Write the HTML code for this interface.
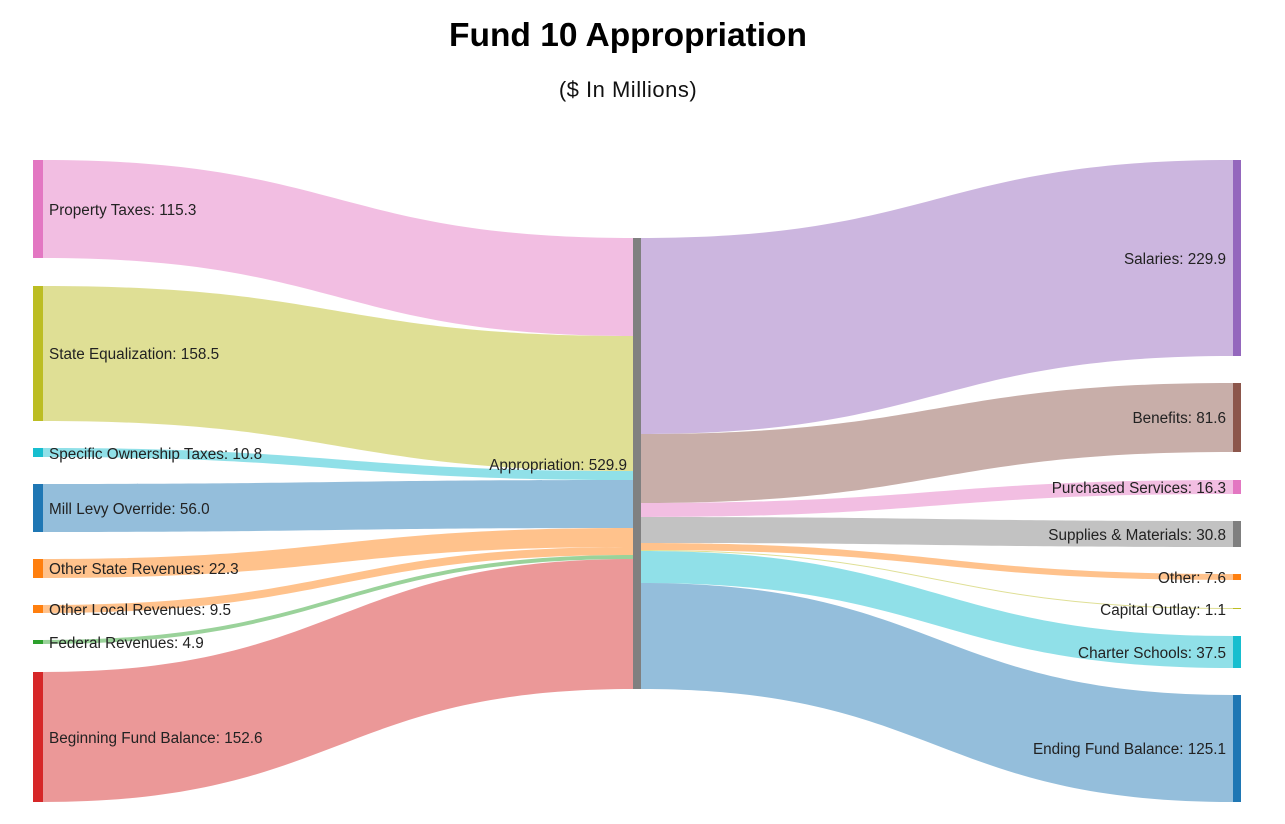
<!DOCTYPE html>
<html><head><meta charset="utf-8"><style>
body{margin:0;background:#fff;width:1285px;height:819px;overflow:hidden}
svg text{font-family:"Liberation Sans",sans-serif;fill:#222}
</style></head><body>
<svg width="1285" height="819" viewBox="0 0 1285 819" xmlns="http://www.w3.org/2000/svg">
<text x="628" y="46" text-anchor="middle" style="font-size:33.5px;font-weight:bold;fill:#000">Fund 10 Appropriation</text>
<text x="628" y="97" text-anchor="middle" style="font-size:22px;letter-spacing:0.5px;fill:#111">($ In Millions)</text>
<g fill-opacity="0.48">
<path d="M43,160 C338,160 338,238 633,238 L633,336 C338,336 338,258 43,258Z" fill="#e377c2"/>
<path d="M43,286 C338,286 338,336 633,336 L633,471 C338,471 338,421 43,421Z" fill="#bcbd22"/>
<path d="M43,448 C338,448 338,471 633,471 L633,480 C338,480 338,457 43,457Z" fill="#17becf"/>
<path d="M43,484 C338,484 338,480 633,480 L633,528 C338,528 338,532 43,532Z" fill="#1f77b4"/>
<path d="M43,559 C338,559 338,528 633,528 L633,547 C338,547 338,578 43,578Z" fill="#ff7f0e"/>
<path d="M43,605 C338,605 338,547 633,547 L633,555 C338,555 338,613 43,613Z" fill="#ff7f0e"/>
<path d="M43,640 C338,640 338,555 633,555 L633,559 C338,559 338,644 43,644Z" fill="#2ca02c"/>
<path d="M43,672 C338,672 338,559 633,559 L633,689 C338,689 338,802 43,802Z" fill="#d62728"/>
<path d="M641,238 C937,238 937,160 1233,160 L1233,356 C937,356 937,434 641,434Z" fill="#9467bd"/>
<path d="M641,434 C937,434 937,383 1233,383 L1233,452 C937,452 937,503 641,503Z" fill="#8c564b"/>
<path d="M641,503 C937,503 937,480 1233,480 L1233,494 C937,494 937,517 641,517Z" fill="#e377c2"/>
<path d="M641,517 C937,517 937,521 1233,521 L1233,547 C937,547 937,543 641,543Z" fill="#7f7f7f"/>
<path d="M641,543 C937,543 937,574 1233,574 L1233,580 C937,580 937,550 641,550Z" fill="#ff7f0e"/>
<path d="M641,550 C937,550 937,608 1233,608 L1233,609 C937,609 937,551 641,551Z" fill="#bcbd22"/>
<path d="M641,551 C937,551 937,636 1233,636 L1233,668 C937,668 937,583 641,583Z" fill="#17becf"/>
<path d="M641,583 C937,583 937,695 1233,695 L1233,802 C937,802 937,689 641,689Z" fill="#1f77b4"/>
</g>
<rect x="33" y="160" width="10" height="98" fill="#e377c2"/>
<rect x="33" y="286" width="10" height="135" fill="#bcbd22"/>
<rect x="33" y="448" width="10" height="9" fill="#17becf"/>
<rect x="33" y="484" width="10" height="48" fill="#1f77b4"/>
<rect x="33" y="559" width="10" height="19" fill="#ff7f0e"/>
<rect x="33" y="605" width="10" height="8" fill="#ff7f0e"/>
<rect x="33" y="640" width="10" height="4" fill="#2ca02c"/>
<rect x="33" y="672" width="10" height="130" fill="#d62728"/>
<rect x="633" y="238" width="8" height="451" fill="#808080"/>
<rect x="1233" y="160" width="8" height="196" fill="#9467bd"/>
<rect x="1233" y="383" width="8" height="69" fill="#8c564b"/>
<rect x="1233" y="480" width="8" height="14" fill="#e377c2"/>
<rect x="1233" y="521" width="8" height="26" fill="#7f7f7f"/>
<rect x="1233" y="574" width="8" height="6" fill="#ff7f0e"/>
<rect x="1233" y="608" width="8" height="1" fill="#bcbd22"/>
<rect x="1233" y="636" width="8" height="32" fill="#17becf"/>
<rect x="1233" y="695" width="8" height="107" fill="#1f77b4"/>
<g style="font-size:15.3px">
<text x="49" y="215">Property Taxes: 115.3</text>
<text x="49" y="359">State Equalization: 158.5</text>
<text x="49" y="459">Specific Ownership Taxes: 10.8</text>
<text x="49" y="514">Mill Levy Override: 56.0</text>
<text x="49" y="574">Other State Revenues: 22.3</text>
<text x="49" y="615">Other Local Revenues: 9.5</text>
<text x="49" y="648">Federal Revenues: 4.9</text>
<text x="49" y="743">Beginning Fund Balance: 152.6</text>
<text x="627" y="470" text-anchor="end">Appropriation: 529.9</text>
<text x="1226" y="264" text-anchor="end">Salaries: 229.9</text>
<text x="1226" y="423" text-anchor="end">Benefits: 81.6</text>
<text x="1226" y="493" text-anchor="end">Purchased Services: 16.3</text>
<text x="1226" y="540" text-anchor="end">Supplies &amp; Materials: 30.8</text>
<text x="1226" y="583" text-anchor="end">Other: 7.6</text>
<text x="1226" y="615" text-anchor="end">Capital Outlay: 1.1</text>
<text x="1226" y="658" text-anchor="end">Charter Schools: 37.5</text>
<text x="1226" y="754" text-anchor="end">Ending Fund Balance: 125.1</text>
</g>
</svg>
</body></html>
